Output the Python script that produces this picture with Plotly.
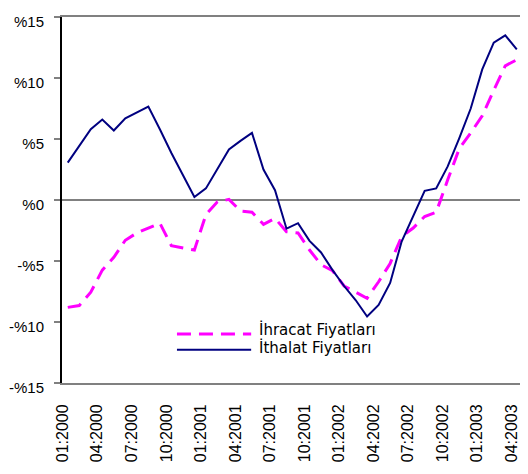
import plotly.graph_objects as go

years = [2000, 2001, 2002, 2003]
months = [f"{m:02d}:{y}" for y in years for m in range(1, 13)][:40]

ihracat = [-8.8, -8.65, -7.55, -5.75, -4.7, -3.3, -2.7, -2.3, -1.9, -3.75,
           -3.9, -4.1, -1.2, -0.15, 0.05, -0.9, -1.0, -2.0, -1.5, -2.6,
           -2.7, -4.1, -5.3, -5.8, -7.05, -7.55, -8.05, -6.7, -5.2, -3.0,
           -2.3, -1.35, -1.0, 1.65, 4.2, 5.5, 6.9, 9.0, 11.0, 11.5]
ithalat = [3.06, 4.4, 5.8, 6.6, 5.7, 6.7, 7.2, 7.65, 5.8, 3.85,
           2.05, 0.25, 0.95, 2.5, 4.15, 4.85, 5.5, 2.5, 0.8, -2.35,
           -1.9, -3.35, -4.3, -5.75, -7.05, -8.2, -9.55, -8.6, -6.8, -3.4,
           -1.35, 0.75, 0.95, 2.75, 5.05, 7.5, 10.7, 12.9, 13.5, 12.35]

series_names = ["İhracat Fiyatları", "İthalat Fiyatları"]
series_colors = ["#FF00FF", "#000080"]

yticks = [15, 10, 5, 0, -5, -10, -15]
yticktext = ["%15", "%10", "%5", "%0", "-%5", "-%10", "-%15"]

label_months = months[::3]
boundary_ticks = [i - 0.5 for i in range(3, len(months), 3)]

fig = go.Figure()
fig.add_trace(go.Scatter(x=months, y=ihracat, mode="lines", name=series_names[0],
                         line=dict(color=series_colors[0], width=3, dash="14px,8px")))
fig.add_trace(go.Scatter(x=months, y=ithalat, mode="lines", name=series_names[1],
                         line=dict(color=series_colors[1], width=2)))

# custom legend (long line samples as in the original)
line_rows = [0.134, 0.091]
text_rows = [0.145, 0.096]
for name, col, ly, ty, dash, w in zip(series_names, series_colors, line_rows, text_rows,
                                      ["14px,8px", "solid"], [3, 2]):
    fig.add_shape(type="line", xref="paper", yref="paper", x0=0.251, x1=0.413,
                  y0=ly, y1=ly, line=dict(color=col, width=w, dash=dash))
    fig.add_annotation(xref="paper", yref="paper", x=0.428, y=ty, text=name,
                       showarrow=False, xanchor="left", yanchor="middle", borderpad=0,
                       font=dict(family="DejaVu Sans", size=15, color="black"))

xr = [-0.5, 39.28]
fig.update_layout(
    width=512, height=458,
    margin=dict(l=54, r=0, t=9, b=83),
    paper_bgcolor="white", plot_bgcolor="white",
    showlegend=False,
    xaxis=dict(type="category", range=xr, tickmode="array", tickvals=label_months,
               ticktext=label_months, tickangle=-90, ticks="", ticklabelstandoff=13,
               ticklabelshift=-5,
               tickfont=dict(family="Liberation Sans", size=16, color="black"),
               showgrid=False, showline=True, linecolor="#808080", linewidth=2,
               mirror=True, zeroline=False),
    xaxis2=dict(overlaying="x", anchor="free", position=0.5, range=xr,
                tickmode="array", tickvals=boundary_ticks, ticks="outside",
                ticklen=6, tickwidth=2, tickcolor="#808080", showticklabels=False,
                showgrid=False, showline=False, zeroline=False),
    yaxis=dict(range=[-15, 15], tickmode="array", tickvals=yticks, ticktext=yticktext,
               ticks="outside", ticklen=6, tickwidth=2, tickcolor="#808080",
               ticklabelstandoff=7, ticklabelshift=5,
               tickfont=dict(family="Liberation Sans", size=15, color="black"),
               showgrid=False, showline=True, linecolor="black", linewidth=2,
               zeroline=True, zerolinecolor="#808080", zerolinewidth=2),
)
fig.write_html("out.html")
